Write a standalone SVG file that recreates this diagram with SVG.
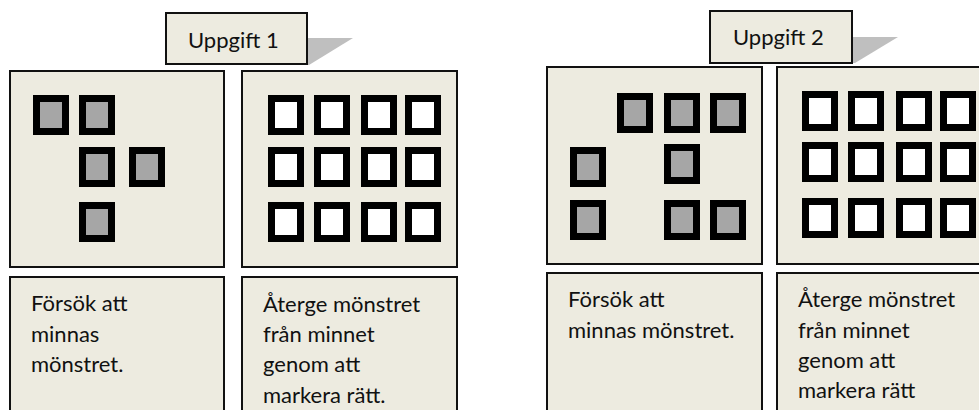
<svg xmlns="http://www.w3.org/2000/svg" width="979" height="410" viewBox="0 0 979 410">
<style>
.panel{fill:#edebe0;stroke:#111;stroke-width:2}
.sq{stroke:#000;stroke-width:7}
.g{fill:#a6a6a6}
.w{fill:#fff}
.shadow{fill:#bfbfbf}
text{font-family:Lato,"Open Sans","Liberation Sans",sans-serif;font-size:22px;fill:#111}
</style>
<defs>
<rect id="gs" class="sq g" x="3.5" y="3.5" width="29" height="33"/>
<rect id="ws" class="sq w" x="3.5" y="3.5" width="29" height="33"/>
</defs>
<g id="callout1">
<polygon class="shadow" points="306,38 353,38 309,65 306,65"/>
<rect class="panel" x="166" y="13" width="141" height="51"/>
<text x="188" y="48">Uppgift 1</text>
</g>
<g id="pattern1">
<rect class="panel" x="10" y="71" width="214" height="196"/>
<use href="#gs" x="33" y="95"/><use href="#gs" x="79" y="95"/>
<use href="#gs" x="79" y="147"/><use href="#gs" x="129" y="147"/>
<use href="#gs" x="79" y="202"/>
</g>
<g id="grid1">
<rect class="panel" x="242" y="71" width="215" height="196"/>
<use href="#ws" x="268" y="95"/><use href="#ws" x="314" y="95"/><use href="#ws" x="361" y="95"/><use href="#ws" x="405" y="95"/>
<use href="#ws" x="268" y="147"/><use href="#ws" x="314" y="147"/><use href="#ws" x="361" y="147"/><use href="#ws" x="405" y="147"/>
<use href="#ws" x="268" y="202"/><use href="#ws" x="314" y="202"/><use href="#ws" x="361" y="202"/><use href="#ws" x="405" y="202"/>
</g>
<g id="text1a">
<rect class="panel" x="10" y="277" width="214" height="140"/>
<text x="31" y="311">Försök att</text>
<text x="31" y="342">minnas</text>
<text x="31" y="372">mönstret.</text>
</g>
<g id="text1b">
<rect class="panel" x="242" y="277" width="215" height="140"/>
<text x="263" y="312">Återge mönstret</text>
<text x="263" y="342">från minnet</text>
<text x="263" y="372">genom att</text>
<text x="263" y="403">markera rätt.</text>
</g>
<g id="callout2">
<polygon class="shadow" points="851,37 898,37 855,63 851,63"/>
<rect class="panel" x="710" y="11" width="142" height="52"/>
<text x="733" y="45">Uppgift 2</text>
</g>
<g id="pattern2">
<rect class="panel" x="547" y="67" width="215" height="197"/>
<use href="#gs" x="617" y="93"/><use href="#gs" x="664" y="93"/><use href="#gs" x="710" y="93"/>
<use href="#gs" x="570" y="147"/><use href="#gs" x="664" y="144"/>
<use href="#gs" x="570" y="200"/><use href="#gs" x="664" y="200"/><use href="#gs" x="710" y="200"/>
</g>
<g id="grid2">
<rect class="panel" x="777" y="67" width="215" height="197"/>
<use href="#ws" x="802" y="91"/><use href="#ws" x="848" y="91"/><use href="#ws" x="896" y="91"/><use href="#ws" x="940" y="91"/>
<use href="#ws" x="802" y="142"/><use href="#ws" x="848" y="142"/><use href="#ws" x="896" y="142"/><use href="#ws" x="940" y="142"/>
<use href="#ws" x="802" y="198"/><use href="#ws" x="848" y="198"/><use href="#ws" x="896" y="198"/><use href="#ws" x="940" y="198"/>
</g>
<g id="text2a">
<rect class="panel" x="547" y="273" width="215" height="144"/>
<text x="568" y="307">Försök att</text>
<text x="568" y="338">minnas mönstret.</text>
</g>
<g id="text2b">
<rect class="panel" x="777" y="273" width="215" height="144"/>
<text x="798" y="307">Återge mönstret</text>
<text x="798" y="338">från minnet</text>
<text x="798" y="368">genom att</text>
<text x="798" y="398">markera rätt</text>
</g>
</svg>
